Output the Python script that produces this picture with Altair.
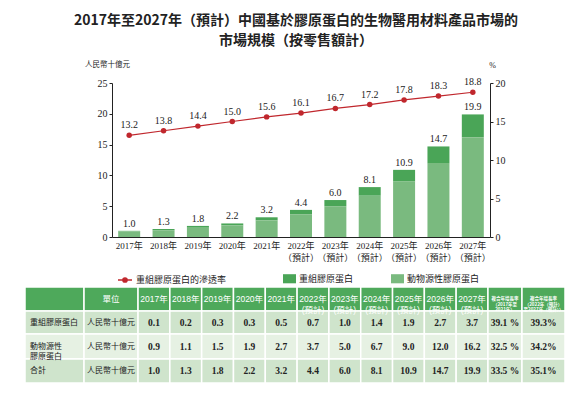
import altair as alt
import pandas as pd

# ---------------- data ----------------
years = ["2017年", "2018年", "2019年", "2020年", "2021年",
         "2022年（預計）", "2023年（預計）", "2024年（預計）",
         "2025年（預計）", "2026年（預計）", "2027年（預計）"]
recombinant = [0.1, 0.2, 0.3, 0.3, 0.5, 0.7, 1.0, 1.4, 1.9, 2.7, 3.7]
animal = [0.9, 1.1, 1.5, 1.9, 2.7, 3.7, 5.0, 6.7, 9.0, 12.0, 16.2]
total = [1.0, 1.3, 1.8, 2.2, 3.2, 4.4, 6.0, 8.1, 10.9, 14.7, 19.9]
penetration = [13.2, 13.8, 14.4, 15.0, 15.6, 16.1, 16.7, 17.2, 17.8, 18.3, 18.8]
cagr_hist = ["39.1 %", "32.5 %", "33.5 %"]
cagr_fore = ["39.3%", "34.2%", "35.1%"]
series_names = ["重組膠原蛋白", "動物源性膠原蛋白"]
rate_name = "重組膠原蛋白的滲透率"
row_labels = ["重組膠原蛋白", "動物源性\n膠原蛋白", "合計"]
unit_label = "人民幣十億元"
cagr_headers = ["複合年增長率\n（2017年至\n2021年）",
                "複合年增長率\n（2022年（預計）\n至2027年（預計））"]
title_lines = ["2017年至2027年（預計）中國基於膠原蛋白的生物醫用材料產品市場的",
               "市場規模（按零售額計）"]

# ---------------- styles ----------------
SERIF = "Liberation Serif, Noto Sans CJK TC"
SANS = "Liberation Sans, Noto Sans CJK TC"
CJK = "Noto Sans CJK TC"
DARK = "#4aa557"
LIGHT = "#7aba7f"
RED = "#c0272d"
HEAD = "#4ea95b"
ROW_A = "#cfe4cc"
ROW_B = "#e6f1e3"
TXT = "#222222"

# ---------------- chart data ----------------
bars_df = pd.DataFrame(
    [{"year": y, "series": series_names[0], "value": r, "ord": 1} for y, r in zip(years, recombinant)]
    + [{"year": y, "series": series_names[1], "value": a, "ord": 0} for y, a in zip(years, animal)]
)
tot_df = pd.DataFrame({"year": years, "total": total})
rate_df = pd.DataFrame({"year": years, "rate": penetration, "name": rate_name})

x_enc = alt.X(
    "year:N", sort=years,
    scale=alt.Scale(domain=years, paddingInner=0.36, paddingOuter=0.18),
    axis=alt.Axis(
        title=None, labelAngle=0, ticks=False, domain=True, domainColor="#222",
        labelFont=SERIF, labelFontSize=9, labelColor=TXT, labelPadding=4,
        labelLineHeight=12,
        labelExpr="indexof(datum.label, '（') > 0 ? [substring(datum.label, 0, 5), substring(datum.label, 5)] : datum.label",
    ),
)

left_axis = alt.Axis(
    values=[0, 5, 10, 15, 20, 25], title="人民幣十億元", titleAngle=0,
    titleX=-5, titleY=-19, titleAlign="center", titleBaseline="middle",
    titleFont=CJK, titleFontSize=7.5, titleFontWeight="normal", titleColor=TXT,
    grid=False, labelFont=SERIF, labelFontSize=10, labelColor=TXT,
    tickSize=3, tickColor="#222", domainColor="#222", labelPadding=2,
)
right_axis = alt.Axis(
    orient="right", values=[0, 5, 10, 15, 20], title="%", titleAngle=0,
    titleX=2, titleY=-18, titleAlign="center", titleBaseline="middle",
    titleFont=SERIF, titleFontSize=8, titleFontWeight="normal", titleColor=TXT,
    grid=False, labelFont=SERIF, labelFontSize=10, labelColor=TXT,
    tickSize=3, tickColor="#222", domainColor="#222", labelPadding=2,
)
y_left = alt.Scale(domain=[0, 25], nice=False, zero=True)
y_right = alt.Scale(domain=[0, 20], nice=False, zero=True)

bars = alt.Chart(bars_df).mark_bar().encode(
    x=x_enc,
    y=alt.Y("value:Q", stack="zero", scale=y_left, axis=left_axis),
    fill=alt.Fill(
        "series:N",
        scale=alt.Scale(domain=series_names, range=[DARK, LIGHT]),
        legend=alt.Legend(
            title=None, orient="none", legendX=171, legendY=189,
            direction="horizontal", columns=2, columnPadding=37,
            symbolType="M-1,-0.7H1V0.7H-1Z", symbolSize=169, symbolStrokeWidth=0,
            labelFont=CJK, labelFontSize=9, labelColor=TXT, labelOffset=3,
            padding=0,
        ),
    ),
    order=alt.Order("ord:Q"),
)
bar_labels = alt.Chart(tot_df).mark_text(
    baseline="bottom", dy=-2, font=SERIF, fontSize=10, color=TXT
).encode(
    x=x_enc,
    y=alt.Y("total:Q", scale=y_left, axis=left_axis),
    text=alt.Text("total:Q", format=".1f"),
)

line = alt.Chart(rate_df).mark_line(strokeWidth=1.2).encode(
    x=x_enc,
    y=alt.Y("rate:Q", scale=y_right, axis=right_axis),
    stroke=alt.Stroke(
        "name:N",
        scale=alt.Scale(domain=[rate_name], range=[RED]),
        legend=alt.Legend(
            title=None, orient="none", legendX=5, legendY=189,
            symbolType="M-1,0L1,0M-0.3,0A0.3,0.3,0,1,1,0.3,0A0.3,0.3,0,1,1,-0.3,0Z",
            symbolSize=196, symbolStrokeWidth=1.5, symbolFillColor=RED,
            labelFont=CJK, labelFontSize=9, labelColor=TXT, labelOffset=3,
            padding=0,
        ),
    ),
)
points = alt.Chart(rate_df).mark_circle(size=30, color=RED, opacity=1).encode(
    x=x_enc,
    y=alt.Y("rate:Q", scale=y_right, axis=right_axis),
)
line_labels = alt.Chart(rate_df).mark_text(
    baseline="bottom", dy=-5, font=SERIF, fontSize=10, color=TXT
).encode(
    x=x_enc,
    y=alt.Y("rate:Q", scale=y_right, axis=right_axis),
    text=alt.Text("rate:Q", format=".1f"),
)

left = alt.layer(bars, bar_labels)
right = alt.layer(line, points, line_labels)
main = alt.layer(left, right).resolve_scale(y="independent")

# ---------------- table ----------------
col_w = [59, 54] + [31.8] * 11 + [34, 43]
row_h = [24, 23, 25, 24]
col_edges = [0]
for w in col_w:
    col_edges.append(col_edges[-1] + w)
row_edges = [0]
for h in row_h:
    row_edges.append(row_edges[-1] + h)

year_headers = [y.replace("年（", "年\n(").replace("）", ")") for y in years]
header_row = ["", "單位"] + year_headers + cagr_headers
body_rows = [
    [row_labels[0], unit_label] + [f"{v:.1f}" for v in recombinant] + [cagr_hist[0], cagr_fore[0]],
    [row_labels[1], unit_label] + [f"{v:.1f}" for v in animal] + [cagr_hist[1], cagr_fore[1]],
    [row_labels[2], unit_label] + [f"{v:.1f}" for v in total] + [cagr_hist[2], cagr_fore[2]],
]
all_rows = [header_row] + body_rows
row_fill = [HEAD, ROW_A, ROW_B, ROW_A]

cells = []
for r, row in enumerate(all_rows):
    for c, txt in enumerate(row):
        if r == 0:
            style = "hsmall" if c >= 13 else "head"
        elif c == 0:
            style = "rowlab"
        elif c == 1:
            style = "unit"
        else:
            style = "val"
        cells.append({
            "x0": col_edges[c], "x1": col_edges[c + 1],
            "y0": row_edges[r], "y1": row_edges[r + 1],
            "xc": (col_edges[c] + col_edges[c + 1]) / 2,
            "xl": col_edges[c] + 5,
            "yc": (row_edges[r] + row_edges[r + 1]) / 2,
            "fill": row_fill[r], "text": txt, "style": style,
        })
cells_df = pd.DataFrame(cells)

tx = alt.Scale(domain=[0, col_edges[-1]], range=[-87, 453], nice=False, zero=False)
ty = alt.Scale(domain=[0, row_edges[-1]], range=[204, 300], nice=False, zero=False)

rects = alt.Chart(cells_df).mark_rect(stroke="white", strokeWidth=1.5).encode(
    x=alt.X("x0:Q", scale=tx, axis=None),
    x2="x1:Q",
    y=alt.Y("y0:Q", scale=ty, axis=None),
    y2="y1:Q",
    fill=alt.Fill("fill:N", scale=None, legend=None),
)

def cell_text(style, xfield, **kw):
    return alt.Chart(cells_df).transform_filter(
        alt.datum.style == style
    ).mark_text(lineBreak="\n", baseline="middle", **kw).encode(
        x=alt.X(f"{xfield}:Q", scale=tx, axis=None),
        y=alt.Y("yc:Q", scale=ty, axis=None),
        text="text:N",
    )

t_head = cell_text("head", "xc", font=SANS, fontSize=8.5, color="white", lineHeight=10.5)
t_hsmall = cell_text("hsmall", "xc", font=CJK, fontSize=4.5, color="white", lineHeight=5.5, fontWeight="bold")
t_rowlab = cell_text("rowlab", "xl", align="left", font=CJK, fontSize=8, color=TXT, lineHeight=10)
t_unit = cell_text("unit", "xc", font=CJK, fontSize=8, color=TXT)
t_val = cell_text("val", "xc", font=SERIF, fontSize=9.5, fontWeight="bold", color=TXT)

table = alt.layer(rects, t_head, t_hsmall, t_rowlab, t_unit, t_val)

chart = alt.layer(main, table).resolve_scale(
    x="independent", y="independent"
).properties(
    width=378, height=154,
    padding={"left": 104, "top": 75, "right": 80, "bottom": 150},
    autosize=alt.AutoSizeParams(type="none"),
    title=alt.Title(
        text=title_lines, font=CJK, fontSize=14, fontWeight="bold", color=TXT,
        anchor="middle", lineHeight=20, offset=12, dx=-5,
    ),
).configure_view(stroke=None)

chart.save("out.html", embed_options={"renderer": "svg", "actions": False})
